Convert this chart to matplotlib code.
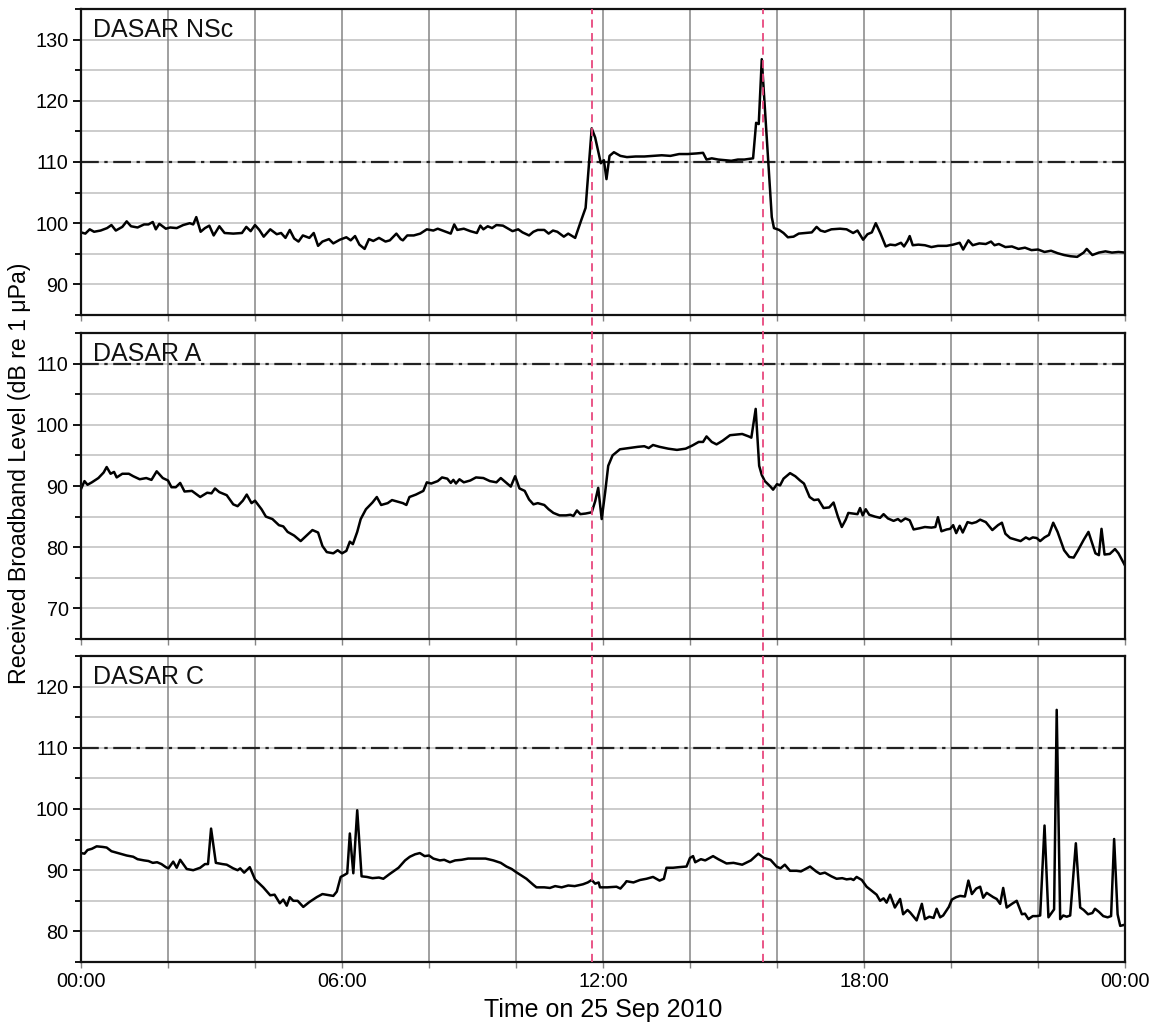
import matplotlib
matplotlib.use("Agg")
import matplotlib.pyplot as plt
from matplotlib.ticker import FixedLocator
from matplotlib.transforms import blended_transform_factory

plt.rcParams['font.family'] = ['Liberation Sans', 'DejaVu Sans']

# ---- Received broadband levels (time in hours after midnight, level in dB re 1 uPa)
nsc_time = [0.00, 0.10, 0.20, 0.30, 0.45, 0.60, 0.70, 0.80, 0.95, 1.05, 1.15, 1.30, 1.45, 1.55,
            1.65, 1.72, 1.80, 1.95, 2.05, 2.20, 2.35, 2.50, 2.58, 2.65, 2.75, 2.85, 2.95, 3.05,
            3.18, 3.30, 3.50, 3.70, 3.80, 3.90, 4.00, 4.10, 4.20, 4.35, 4.50, 4.60, 4.70, 4.80,
            4.90, 5.00, 5.10, 5.25, 5.35, 5.45, 5.55, 5.70, 5.80, 5.95, 6.10, 6.20, 6.30, 6.40,
            6.52, 6.62, 6.72, 6.85, 7.00, 7.10, 7.25, 7.35, 7.40, 7.50, 7.65, 7.80, 7.95, 8.10,
            8.20, 8.35, 8.50, 8.58, 8.65, 8.80, 8.95, 9.10, 9.18, 9.25, 9.35, 9.45, 9.55, 9.70,
            9.80, 9.92, 10.05, 10.15, 10.30, 10.40, 10.50, 10.65, 10.75, 10.85, 10.95, 11.10,
            11.20, 11.36, 11.50, 11.60, 11.74, 11.82, 11.95, 12.02, 12.08, 12.15, 12.25, 12.40,
            12.55, 12.75, 12.95, 13.15, 13.35, 13.55, 13.75, 13.95, 14.15, 14.30, 14.38, 14.50,
            14.65, 14.80, 14.95, 15.10, 15.25, 15.45, 15.52, 15.58, 15.65, 15.72, 15.80, 15.88,
            15.93, 16.05, 16.15, 16.25, 16.38, 16.50, 16.65, 16.80, 16.91, 17.00, 17.10, 17.25,
            17.45, 17.60, 17.75, 17.85, 17.98, 18.08, 18.18, 18.27, 18.38, 18.50, 18.60, 18.72,
            18.85, 18.92, 19.00, 19.05, 19.12, 19.25, 19.40, 19.55, 19.70, 19.90, 20.05, 20.20,
            20.28, 20.40, 20.50, 20.65, 20.80, 20.92, 21.00, 21.10, 21.25, 21.40, 21.55, 21.70,
            21.85, 22.00, 22.15, 22.30, 22.45, 22.60, 22.75, 22.90, 23.05, 23.12, 23.25, 23.40,
            23.55, 23.70, 23.85, 24.00]
nsc_level = [98.5, 98.3, 99.0, 98.6, 98.8, 99.2, 99.7, 98.8, 99.4, 100.3, 99.5, 99.3, 99.8, 99.8,
             100.2, 99.0, 99.9, 99.1, 99.3, 99.2, 99.7, 100.0, 99.8, 101.0, 98.6, 99.2, 99.6, 98.0,
             99.5, 98.4, 98.3, 98.4, 99.4, 98.7, 99.7, 98.9, 97.8, 99.0, 98.2, 98.4, 97.6, 98.9,
             97.5, 97.0, 98.0, 97.6, 98.4, 96.3, 97.0, 97.4, 96.7, 97.3, 97.7, 97.2, 97.9, 96.5,
             95.8, 97.4, 97.1, 97.6, 97.0, 97.2, 98.3, 97.4, 97.2, 98.0, 98.0, 98.3, 99.0, 98.8,
             99.1, 98.7, 98.3, 99.8, 98.9, 99.1, 98.7, 98.4, 99.6, 99.0, 99.5, 99.2, 99.7, 99.6,
             99.2, 98.7, 99.0, 98.5, 98.0, 98.6, 98.9, 98.9, 98.3, 98.8, 98.6, 97.8,
             98.3, 97.6, 100.5, 102.5, 115.5, 114.0, 109.8, 110.3, 107.2, 111.0, 111.6, 111.0,
             110.8, 110.9, 110.9, 111.0, 111.1, 111.0, 111.3, 111.3, 111.4, 111.5, 110.4, 110.6,
             110.4, 110.3, 110.2, 110.4, 110.4, 110.6, 116.4, 116.2, 126.8, 119.0, 110.0, 101.0,
             99.2, 98.9, 98.4, 97.7, 97.8, 98.3, 98.4, 98.5, 99.4, 98.8, 98.6, 99.0,
             99.1, 99.0, 98.4, 98.8, 97.3, 98.2, 98.5, 100.0, 98.3, 96.2, 96.5, 96.4,
             96.8, 96.2, 97.1, 97.9, 96.4, 96.5, 96.4, 96.1, 96.3, 96.3, 96.5, 96.8,
             95.7, 97.2, 96.4, 96.7, 96.6, 97.0, 96.4, 96.6, 96.1, 96.2, 95.8, 96.0,
             95.6, 95.7, 95.3, 95.5, 95.1, 94.8, 94.6, 94.5, 95.2, 95.8, 94.8, 95.2,
             95.4, 95.2, 95.3, 95.2]

a_time = [0.00, 0.08, 0.15, 0.25, 0.40, 0.52, 0.59, 0.68, 0.76, 0.82, 0.95, 1.10, 1.20, 1.35,
          1.50, 1.62, 1.74, 1.88, 2.00, 2.08, 2.18, 2.28, 2.38, 2.55, 2.74, 2.90, 3.00, 3.08,
          3.18, 3.35, 3.50, 3.60, 3.72, 3.81, 3.92, 4.00, 4.15, 4.25, 4.40, 4.55, 4.65, 4.75,
          4.90, 5.05, 5.20, 5.32, 5.45, 5.55, 5.65, 5.80, 5.90, 6.00, 6.10, 6.18, 6.25, 6.35,
          6.43, 6.55, 6.70, 6.80, 6.90, 7.05, 7.15, 7.25, 7.40, 7.48, 7.55, 7.70, 7.87, 7.95,
          8.05, 8.20, 8.30, 8.42, 8.50, 8.56, 8.62, 8.70, 8.80, 8.95, 9.08, 9.25, 9.40, 9.55,
          9.65, 9.80, 9.88, 9.98, 10.08, 10.20, 10.30, 10.40, 10.50, 10.65, 10.75, 10.86, 11.00,
          11.15, 11.25, 11.32, 11.40, 11.48, 11.60, 11.74, 11.82, 11.89, 11.97, 12.05, 12.12,
          12.22, 12.39, 12.60, 12.80, 12.95, 13.05, 13.15, 13.30, 13.50, 13.70, 13.90, 14.05,
          14.20, 14.30, 14.38, 14.50, 14.61, 14.75, 14.92, 15.05, 15.20, 15.35, 15.41, 15.51,
          15.59, 15.65, 15.72, 15.85, 15.91, 16.00, 16.07, 16.15, 16.30, 16.42, 16.53, 16.62,
          16.75, 16.85, 16.95, 17.07, 17.20, 17.30, 17.40, 17.49, 17.58, 17.64, 17.75, 17.85,
          17.91, 17.97, 18.04, 18.12, 18.25, 18.37, 18.45, 18.55, 18.68, 18.78, 18.85, 18.95,
          19.05, 19.14, 19.28, 19.40, 19.55, 19.64, 19.70, 19.78, 19.90, 19.98, 20.05, 20.12,
          20.20, 20.27, 20.38, 20.48, 20.58, 20.67, 20.80, 20.95, 21.08, 21.17, 21.25, 21.36,
          21.50, 21.60, 21.72, 21.80, 21.88, 21.97, 22.05, 22.15, 22.25, 22.35, 22.45, 22.60,
          22.72, 22.82, 22.92, 23.05, 23.16, 23.25, 23.32, 23.40, 23.46, 23.53, 23.65, 23.77,
          23.85, 24.00]
a_level = [89.5, 90.8, 90.2, 90.6, 91.3, 92.2, 93.1, 92.0, 92.3, 91.4, 92.0, 92.0, 91.6, 91.1,
           91.3, 91.0, 92.4, 91.3, 90.9, 89.8, 89.8, 90.5, 89.1, 89.2, 88.2, 88.9, 88.8, 89.6,
           89.0, 88.5, 87.0, 86.7, 87.6, 88.6, 87.2, 87.6, 86.2, 85.0, 84.6, 83.6, 83.4, 82.5,
           81.9, 81.0, 82.0, 82.8, 82.4, 80.2, 79.2, 79.0, 79.5, 79.0, 79.4, 80.9, 80.5, 82.5,
           84.6, 86.2, 87.3, 88.2, 86.9, 87.2, 87.7, 87.5, 87.2, 86.9, 88.2, 88.6, 89.2, 90.6,
           90.4, 90.8, 91.4, 91.2, 90.5, 91.0, 90.4, 91.1, 90.6, 90.9, 91.4, 91.3, 90.8, 90.6,
           91.3, 90.4, 89.9, 91.6, 89.6, 89.2, 87.8, 87.0, 87.2, 86.9, 86.2, 85.6, 85.2,
           85.2, 85.3, 85.1, 86.0, 85.4, 85.5, 85.7, 87.5, 89.7, 84.6, 89.0, 93.3,
           95.0, 96.0, 96.2, 96.4, 96.5, 96.2, 96.7, 96.4, 96.1, 95.9, 96.1, 96.6,
           97.2, 97.2, 98.1, 97.2, 96.8, 97.4, 98.3, 98.4, 98.5, 98.1, 97.9, 102.6,
           93.3, 91.8, 90.8, 89.9, 89.4, 90.3, 90.1, 91.2, 92.1, 91.6, 90.9, 90.4,
           88.2, 87.7, 87.8, 86.4, 86.5, 87.3, 85.0, 83.3, 84.5, 85.6, 85.5, 85.4,
           86.4, 85.2, 86.2, 85.3, 85.0, 84.8, 85.4, 84.7, 84.3, 84.6, 84.2, 84.7,
           84.4, 82.9, 83.1, 83.3, 83.2, 83.3, 84.9, 82.6, 82.9, 83.0, 83.6, 82.3,
           83.5, 82.4, 84.1, 83.9, 84.1, 84.5, 84.1, 82.8, 83.6, 84.0, 82.2, 81.5,
           81.2, 81.0, 81.6, 81.3, 81.6, 81.5, 81.0, 81.6, 82.0, 84.0, 82.5, 79.5,
           78.4, 78.3, 79.5, 81.2, 82.5, 80.5, 79.0, 78.7, 83.0, 78.8, 78.9, 79.7,
           79.0, 77.0]

c_time = [0.00, 0.08, 0.15, 0.25, 0.36, 0.50, 0.59, 0.70, 0.80, 0.95, 1.05, 1.20, 1.30, 1.45,
          1.55, 1.65, 1.75, 1.85, 1.95, 2.01, 2.12, 2.20, 2.28, 2.43, 2.58, 2.74, 2.85, 2.92,
          2.99, 3.10, 3.25, 3.35, 3.50, 3.60, 3.66, 3.75, 3.88, 4.00, 4.19, 4.35, 4.45, 4.57,
          4.65, 4.73, 4.80, 4.88, 4.98, 5.11, 5.25, 5.42, 5.55, 5.72, 5.80, 5.88, 5.97, 6.05,
          6.12, 6.18, 6.26, 6.35, 6.45, 6.57, 6.70, 6.85, 6.95, 7.10, 7.30, 7.45, 7.56, 7.68,
          7.79, 7.90, 8.00, 8.10, 8.25, 8.35, 8.48, 8.60, 8.75, 8.90, 9.10, 9.30, 9.48, 9.65,
          9.78, 9.90, 10.00, 10.24, 10.40, 10.47, 10.65, 10.78, 10.90, 11.05, 11.20, 11.35,
          11.54, 11.65, 11.74, 11.82, 11.90, 11.93, 12.10, 12.31, 12.40, 12.50, 12.54, 12.70,
          12.85, 13.00, 13.15, 13.30, 13.40, 13.46, 13.61, 13.75, 13.92, 14.00, 14.07, 14.12,
          14.25, 14.35, 14.53, 14.65, 14.84, 15.00, 15.20, 15.40, 15.57, 15.70, 15.85, 15.99,
          16.08, 16.18, 16.30, 16.45, 16.55, 16.76, 16.90, 16.99, 17.10, 17.25, 17.37, 17.50,
          17.60, 17.70, 17.76, 17.83, 17.95, 18.06, 18.20, 18.29, 18.37, 18.45, 18.52, 18.60,
          18.71, 18.83, 18.90, 19.00, 19.06, 19.21, 19.33, 19.40, 19.50, 19.60, 19.67, 19.75,
          19.82, 19.95, 20.02, 20.12, 20.21, 20.32, 20.40, 20.48, 20.58, 20.67, 20.74, 20.82,
          20.97, 21.05, 21.13, 21.20, 21.28, 21.40, 21.51, 21.63, 21.70, 21.78, 21.88, 21.97,
          22.05, 22.15, 22.24, 22.30, 22.37, 22.43, 22.51, 22.58, 22.66, 22.74, 22.87, 22.97,
          23.05, 23.15, 23.25, 23.31, 23.40, 23.50, 23.60, 23.68, 23.75, 23.83, 23.89, 24.00]
c_level = [92.8, 92.7, 93.3, 93.5, 93.9, 93.8, 93.7, 93.1, 92.9, 92.6, 92.4, 92.2, 91.8, 91.6,
           91.5, 91.2, 91.3, 91.0, 90.5, 90.3, 91.4, 90.4, 91.7, 90.2, 90.0, 90.4, 91.0, 91.0,
           96.8, 91.2, 91.0, 90.9, 90.3, 90.0, 90.3, 89.6, 90.5, 88.5, 87.2, 85.9, 86.0, 84.6,
           85.2, 84.2, 85.6, 85.0, 85.0, 84.0, 84.8, 85.6, 86.1, 85.9, 85.8, 86.5, 88.9, 89.2,
           89.5, 96.0, 89.5, 99.8, 89.0, 88.9, 88.7, 88.8, 88.6, 89.4, 90.4, 91.6, 92.2, 92.6,
           92.8, 92.3, 92.4, 91.9, 91.6, 91.7, 91.3, 91.6, 91.7, 91.9, 91.9, 91.9, 91.6, 91.2,
           90.6, 90.2, 89.7, 88.6, 87.6, 87.2, 87.2, 87.1, 87.4, 87.2, 87.5, 87.4,
           87.7, 88.0, 88.4, 87.8, 88.0, 87.2, 87.2, 87.3, 87.0, 87.8, 88.2, 88.0,
           88.4, 88.6, 88.9, 88.3, 88.6, 90.4, 90.4, 90.5, 90.6, 92.0, 92.3, 91.3,
           91.8, 91.6, 92.3, 91.8, 91.1, 91.2, 90.9, 91.6, 92.7, 92.0, 91.7, 90.6,
           90.3, 90.9, 89.9, 89.9, 89.8, 90.6, 89.8, 89.4, 89.6, 89.0, 88.6, 88.7,
           88.5, 88.6, 88.4, 88.9, 88.4, 87.3, 86.5, 86.0, 85.0, 85.4, 84.7, 86.0,
           83.9, 85.3, 82.8, 83.5, 83.1, 81.8, 84.5, 82.0, 82.4, 82.2, 83.7, 82.3,
           82.6, 84.0, 85.2, 85.6, 85.8, 85.7, 88.3, 86.1, 87.0, 87.3, 85.5, 86.3,
           85.6, 85.3, 84.5, 87.1, 83.9, 84.5, 85.0, 82.8, 82.9, 82.0, 82.5, 82.5,
           82.6, 97.3, 82.3, 82.9, 83.6, 116.2, 82.0, 82.6, 82.4, 82.6, 94.4, 83.9,
           83.5, 82.8, 83.0, 83.7, 83.2, 82.5, 82.3, 82.5, 95.1, 82.8, 80.9, 81.1]

panel_names = ["DASAR NSc", "DASAR A", "DASAR C"]
panel_ylims = [(85, 135), (65, 115), (75, 125)]
threshold_db = 110
event_times = [11.74, 15.67]          # start / end of the loud period
hour_ticks = [0, 6, 12, 18, 24]
hour_labels = ["00:00", "06:00", "12:00", "18:00", "00:00"]

series = [(nsc_time, nsc_level), (a_time, a_level), (c_time, c_level)]

fig = plt.figure(figsize=(11.53, 10.25), dpi=100)
W, H = 1153, 1025
left, right = 81 / W, 1125 / W
panel_px = [(9, 315), (333, 639), (656, 962)]
axes = []
for (top, bot) in panel_px:
    ax = fig.add_axes([left, 1 - bot / H, right - left, (bot - top) / H])
    axes.append(ax)

for ax, (t, v), name, ylim in zip(axes, series, panel_names, panel_ylims):
    lo, hi = ylim
    ax.set_xlim(0, 24)
    ax.set_ylim(lo, hi)
    # grid: light horizontal every 5 dB, darker vertical every 2 h
    for yv in range(lo + 5, hi, 5):
        ax.axhline(yv, color="#c8c8c8", lw=1.3, zorder=1)
    for xv in range(2, 24, 2):
        ax.axvline(xv, color="#858585", lw=1.1, zorder=1)
    ax.axhline(threshold_db, color="#222222", lw=1.6, dashes=(8, 2.5, 1.5, 2.5), zorder=2)
    ax.plot(t, v, color="black", lw=1.8, zorder=3, solid_joinstyle="round")
    ax.text(12 / 1044, 1 - 9 / 306, name, transform=ax.transAxes, ha="left", va="top",
            fontsize=18, color="#111111", zorder=5)

    major = [y for y in range(0, 200, 10) if lo < y < hi]
    minor = [y for y in range(0, 200, 5) if lo <= y <= hi and y % 10]
    ax.yaxis.set_major_locator(FixedLocator(major))
    ax.yaxis.set_minor_locator(FixedLocator(minor))
    ax.xaxis.set_major_locator(FixedLocator(hour_ticks))
    ax.xaxis.set_minor_locator(FixedLocator(list(range(2, 24, 2))))
    ax.tick_params(axis="y", which="major", direction="out", length=6, width=1.3,
                   labelsize=14.3, pad=3, colors="black")
    ax.tick_params(axis="y", which="minor", direction="out", length=4, width=1.3)
    ax.tick_params(axis="x", which="both", direction="out", length=4, width=1.0,
                   color="#858585", labelsize=14.3, pad=3)
    for s in ax.spines.values():
        s.set_linewidth(1.6)
        s.set_color("#111111")
        s.set_zorder(6)

for ax in axes[:-1]:
    ax.tick_params(axis="x", labelbottom=False)
axes[-1].set_xticklabels(hour_labels)
axes[-1].set_xlabel("Time on 25 Sep 2010", fontsize=18, labelpad=5)

fig.text(20 / W, 1 - 473 / H, "Received Broadband Level (dB re 1 \u03bcPa)", rotation=90,
         ha="center", va="center", fontsize=16.7)

# event markers spanning all three panels
trans = blended_transform_factory(axes[-1].transData, fig.transFigure)
for te in event_times:
    axes[-1].plot([te, te], [1 - 962 / H, 1 - 9 / H], transform=trans, clip_on=False,
                  color="#e8487e", lw=1.3, dashes=(4.5, 3), zorder=10)

fig.savefig("out.png", dpi=100)
